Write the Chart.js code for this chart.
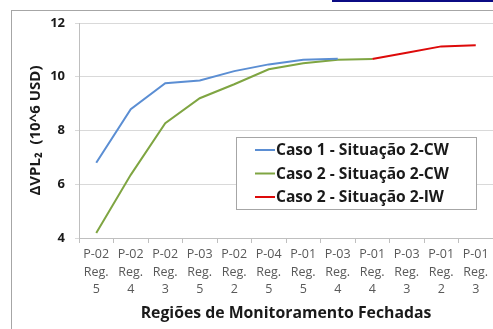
<!DOCTYPE html>
<html>
<head>
<meta charset="utf-8">
<script src="https://cdn.jsdelivr.net/npm/chart.js@4.4.1/dist/chart.umd.min.js"></script>
<style>
  html, body { margin: 0; padding: 0; background: #fff; overflow: hidden; }
  #caixa { position: absolute; left: 0; top: 0; width: 493px; height: 329px; }
  #moldura { position: absolute; left: 11px; top: 10px; width: 600px; height: 400px;
             border-left: 1px solid #a6a6a6; border-top: 1px solid #a6a6a6; }
  #faixa { position: absolute; left: 332px; top: 0; width: 170px; height: 2px; background: #0b0b84; }
</style>
</head>
<body>
<div id="caixa">
  <div id="moldura"></div>
  <div id="faixa"></div>
  <canvas id="MeuGrafico" width="493" height="329"></canvas>
</div>
<script>
// categorias do eixo x (poço / região)
const categorias = [
  ["P-02", "Reg.", "5"], ["P-02", "Reg.", "4"], ["P-02", "Reg.", "3"], ["P-03", "Reg.", "5"],
  ["P-02", "Reg.", "2"], ["P-04", "Reg.", "5"], ["P-01", "Reg.", "5"], ["P-03", "Reg.", "4"],
  ["P-01", "Reg.", "4"], ["P-03", "Reg.", "3"], ["P-01", "Reg.", "2"], ["P-01", "Reg.", "3"]
];

const caso1CW = [6.80, 8.79, 9.76, 9.86, 10.21, 10.46, 10.63, 10.67, null, null, null, null];
const caso2CW = [4.19, 6.35, 8.27, 9.20, 9.72, 10.28, 10.50, 10.63, 10.66, null, null, null];
const caso2IW = [null, null, null, null, null, null, null, null, 10.66, 10.89, 11.13, 11.17];

const ticksY = [4, 6, 8, 10, 12];

const fonte = "'Open Sans', 'Liberation Sans', sans-serif";

// legenda desenhada dentro da área do gráfico
const legendaCaixa = {
  id: "legendaCaixa",
  afterDraw(chart) {
    const ctx = chart.ctx;
    const x = 236, y = 137, w = 240, h = 72;
    ctx.save();
    ctx.fillStyle = "#fff";
    ctx.fillRect(x, y, w, h);
    ctx.strokeStyle = "#a6a6a6";
    ctx.lineWidth = 1;
    ctx.strokeRect(x + 0.5, y + 0.5, w, h);
    ctx.font = "bold 15.6px " + fonte;
    ctx.textBaseline = "middle";
    chart.data.datasets.forEach((ds, i) => {
      const ly = y + 13 + i * 23.5;
      ctx.strokeStyle = ds.borderColor;
      ctx.lineWidth = 2;
      ctx.beginPath();
      ctx.moveTo(255, ly);
      ctx.lineTo(275, ly);
      ctx.stroke();
      ctx.fillStyle = "#1a1a1a";
      ctx.fillText(ds.label, 276, ly + 1);
    });
    ctx.restore();
  }
};

new Chart(document.getElementById("MeuGrafico").getContext("2d"), {
  type: "line",
  data: {
    labels: categorias,
    datasets: [
      { label: "Caso 1 - Situação 2-CW", data: caso1CW, borderColor: "#5b8ed3", backgroundColor: "#5b8ed3" },
      { label: "Caso 2 - Situação 2-CW", data: caso2CW, borderColor: "#7fa542", backgroundColor: "#7fa542" },
      { label: "Caso 2 - Situação 2-IW", data: caso2IW, borderColor: "#dd0a0a", backgroundColor: "#dd0a0a" }
    ]
  },
  options: {
    responsive: false,
    animation: false,
    elements: {
      point: { radius: 0 },
      line: { borderWidth: 2, tension: 0 }
    },
    layout: { padding: { top: 23, left: 0, right: 0, bottom: 0 } },
    plugins: {
      legend: { display: false },
      tooltip: { enabled: false }
    },
    scales: {
      x: {
        offset: true,
        grid: { offset: true, drawOnChartArea: false, drawTicks: true, tickLength: 5, color: "#bfbfbf" },
        border: { color: "#bfbfbf" },
        ticks: {
          color: "#595959", maxRotation: 0, autoSkip: false, padding: 3,
          font: { family: fonte, size: 12.5, lineHeight: 1.4 }
        },
        title: {
          display: true, text: "Regiões de Monitoramento Fechadas", color: "#1a1a1a",
          font: { family: fonte, size: 15.8, weight: "bold", lineHeight: 1.2 },
          padding: { top: 0, bottom: 6 }
        },
        afterFit(scale) { scale.height = 91; }
      },
      y: {
        min: 4, max: 12,
        afterBuildTicks(scale) { scale.ticks = ticksY.map(v => ({ value: v })); },
        grid: { color: "#d9d9d9", tickLength: 4 },
        border: { color: "#bfbfbf" },
        ticks: {
          color: "#1a1a1a", padding: 10,
          font: { family: fonte, size: 13, weight: "bold" }
        },
        title: {
          display: true, text: "ΔVPL₂  (10^6 USD)", color: "#1a1a1a",
          font: { family: fonte, size: 15, weight: "bold", lineHeight: 1.2 },
          padding: { top: 27, bottom: 0 }
        },
        afterFit(scale) { scale.width = 79; }
      }
    }
  },
  plugins: [legendaCaixa]
});
</script>
</body>
</html>
